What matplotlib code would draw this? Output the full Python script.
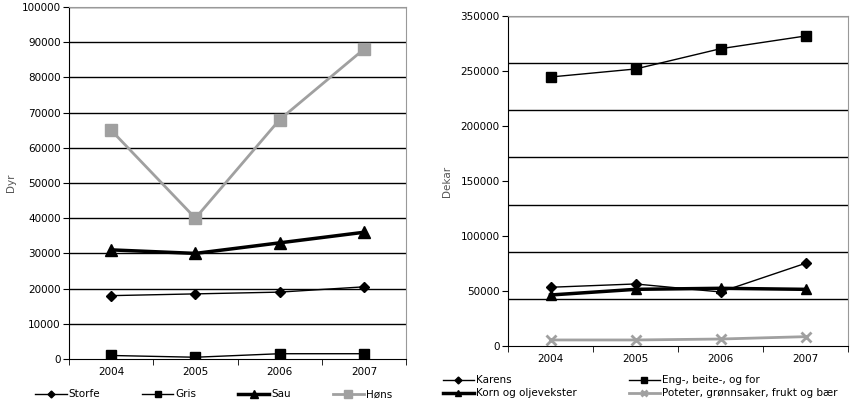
import matplotlib
matplotlib.use("Agg")
import matplotlib.pyplot as plt
import numpy as np

years = ["2004", "2005", "2006", "2007"]
storfe = [18000, 18500, 19000, 20500]
gris = [1000, 500, 1500, 1500]
sau = [31000, 30000, 33000, 36000]
hons = [65000, 40000, 68000, 88000]

# right chart values in rendered axis units
karens = [62300, 65800, 57300, 87700]
eng = [285300, 293800, 315300, 328800]
korn = [54100, 60100, 61200, 60100]
poteter = [6400, 6400, 7400, 9900]
right_labels = ["0", "50000", "100000", "150000", "200000", "250000", "350000"]

plt.rcParams["font.family"] = "DejaVu Sans"
plt.rcParams["font.size"] = 7.5
fig = plt.figure(figsize=(8.5, 4.09), dpi=100)
W, H = 850, 409
ax1 = fig.add_axes([69/W, 1-359/H, 337/W, 352/H])
ax2 = fig.add_axes([508/W, 1-346/H, 340/W, 330/H])
x = np.arange(4)

def style(ax):
    ax.set_xlim(-0.5, 3.5)
    ax.set_xticks(x)
    ax.set_xticklabels(years)
    ax.set_xticks(np.arange(-0.5, 3.6, 1), minor=True)
    ax.tick_params(axis="x", which="major", length=0, pad=6)
    ax.tick_params(axis="x", which="minor", length=4, direction="out")
    ax.tick_params(axis="y", length=4, direction="out", pad=2)
    for s in ["top", "right"]:
        ax.spines[s].set_color("#999999")
    for s in ["left", "bottom"]:
        ax.spines[s].set_color("black")

style(ax1)
ax1.set_ylim(0, 100000)
ax1.set_yticks(np.arange(0, 100001, 10000))
for v in range(10000, 100001, 10000):
    ax1.axhline(v, color="black", lw=1, zorder=0)
l1, = ax1.plot(x, storfe, color="black", lw=1, marker="D", ms=5, label="Storfe")
l2, = ax1.plot(x, gris, color="black", lw=1, marker="s", ms=7, label="Gris")
l3, = ax1.plot(x, sau, color="black", lw=2.5, marker="^", ms=8, label="Sau")
l4, = ax1.plot(x, hons, color="#a0a0a0", lw=2, marker="s", ms=9, label="Høns")
ax1.set_ylabel("Dyr", color="#555555", labelpad=4)
ax1.legend(handles=[l1, l2, l3, l4], ncol=4, loc="upper center",
           bbox_to_anchor=(0.43, -0.06), frameon=False, handlelength=3,
           columnspacing=4, handletextpad=0.2, markerscale=0.7)

style(ax2)
ax2.set_ylim(0, 350000)
ax2.set_yticks(np.linspace(0, 350000, 7))
ax2.set_yticklabels(right_labels)
for v in range(50000, 350001, 50000):
    ax2.axhline(v, color="black", lw=1, zorder=0)
r1, = ax2.plot(x, karens, color="black", lw=1, marker="D", ms=5, label="Karens")
r2, = ax2.plot(x, eng, color="black", lw=1, marker="s", ms=7, label="Eng-, beite-, og for")
r3, = ax2.plot(x, korn, color="black", lw=2.5, marker="^", ms=7, label="Korn og oljevekster")
r4, = ax2.plot(x, poteter, color="#a0a0a0", lw=2, marker="x", ms=7, mew=2,
               label="Poteter, grønnsaker, frukt og bær")
ax2.set_ylabel("Dekar", color="#555555", labelpad=6)
ax2.legend(handles=[r1, r3, r2, r4], ncol=2, loc="upper left",
           bbox_to_anchor=(-0.22, -0.06), frameon=False, handlelength=3,
           columnspacing=5, handletextpad=0.2, labelspacing=0.3, markerscale=0.7)

fig.savefig("out.png", dpi=100)
